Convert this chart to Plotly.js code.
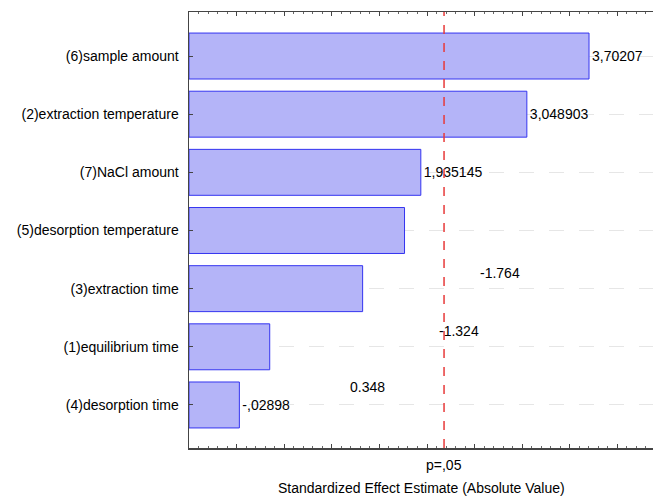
<!DOCTYPE html>
<html>
<head>
<meta charset="utf-8">
<script src="https://cdn.plot.ly/plotly-3.0.1.min.js"></script>
<style>html,body{margin:0;padding:0;background:#fff;}#chart{width:653px;height:497px;}</style>
</head>
<body>
<div id="chart"></div>
<script>
// Data
var factors = ["(6)sample amount", "(2)extraction temperature", "(7)NaCl amount",
  "(5)desorption temperature", "(3)extraction time", "(1)equilibrium time", "(4)desorption time"];
var effects = [3.70207, 3.048903, 1.935145, 1.764, 1.324, 0.348, 0.02898];
var barLabels = ["3,70207", "3,048903", "1,935145", "", "", "", "-,02898"];
var floatLabels = ["-1.764", "-1.324", "0.348"];
var criticalValue = 2.179;
var criticalLabel = "p=,05";
var xTitle = "Standardized Effect Estimate (Absolute Value)";

var axisStart = -0.5;
var FONT = "Liberation Sans, Arial, sans-serif";
var TXT = "#000";

var trace = {
  type: "bar",
  orientation: "h",
  y: factors,
  x: effects.map(function (v) { return v - axisStart; }),
  base: axisStart,
  width: 0.79,
  text: barLabels,
  textposition: "outside",
  cliponaxis: false,
  textfont: {family: FONT, size: 14, color: TXT},
  marker: {color: "#b4b4f8", line: {color: "#3434f0", width: 1}},
  hoverinfo: "none"
};

var layout = {
  width: 653, height: 497,
  margin: {l: 189, r: 0, t: 12, b: 49},
  paper_bgcolor: "#fff", plot_bgcolor: "#fff",
  showlegend: false,
  font: {family: FONT, size: 14, color: TXT},
  xaxis: {
    range: [axisStart, 4.374],
    tickmode: "linear", tick0: 0, dtick: 0.5,
    ticks: "inside", ticklen: 4, tickcolor: "#444", tickwidth: 1,
    minor: {dtick: 0.1, tick0: 0, ticks: "inside", ticklen: 2, tickcolor: "#666", showgrid: false},
    showticklabels: false,
    showgrid: false, zeroline: false,
    showline: true, linecolor: "#444", linewidth: 1.5, mirror: "ticks",
    automargin: false
  },
  yaxis: {
    type: "category",
    range: [6.74, -0.757],
    ticks: "inside", ticklen: 4, tickcolor: "#444",
    ticklabelstandoff: 6,
    tickfont: {family: FONT, size: 14, color: TXT},
    showgrid: true, gridcolor: "#e6e6e6", gridwidth: 1, griddash: "longdash",
    zeroline: false,
    showline: true, linecolor: "#444", linewidth: 1.5,
    automargin: false
  },
  shapes: [{
    type: "line", xref: "x", yref: "paper",
    x0: criticalValue, x1: criticalValue, y0: 0, y1: 1,
    line: {color: "#e83a3a", width: 1.5, dash: "dash"}
  }],
  annotations: [
    {x: criticalValue, xref: "x", y: 0, yref: "paper", yanchor: "middle", yshift: -17,
     text: criticalLabel, showarrow: false, font: {family: FONT, size: 14, color: TXT}},
    {x: 0.5, xref: "paper", y: 0, yref: "paper", yanchor: "middle", yshift: -40,
     text: xTitle, showarrow: false, font: {family: FONT, size: 14, color: TXT}},
    {x: 2.762, xref: "x", y: 3.735, yref: "y", text: floatLabels[0], showarrow: false,
     font: {family: FONT, size: 14, color: TXT}},
    {x: 2.331, xref: "x", y: 4.733, yref: "y", text: floatLabels[1], showarrow: false,
     font: {family: FONT, size: 14, color: TXT}},
    {x: 1.375, xref: "x", y: 5.697, yref: "y", text: floatLabels[2], showarrow: false,
     font: {family: FONT, size: 14, color: TXT}}
  ]
};

Plotly.newPlot("chart", [trace], layout, {staticPlot: true, displayModeBar: false});
</script>
</body>
</html>
